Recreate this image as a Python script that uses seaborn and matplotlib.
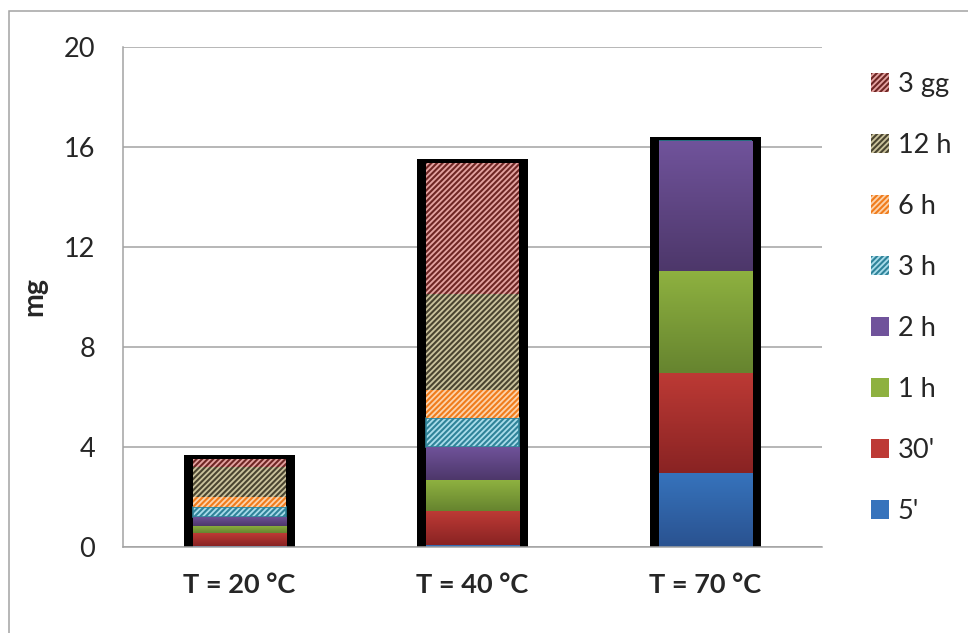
import numpy as np
import matplotlib
matplotlib.use("Agg")
import matplotlib.pyplot as plt
from matplotlib.patches import Patch, Rectangle
from matplotlib.colors import LinearSegmentedColormap
from matplotlib.ticker import FixedLocator
import seaborn as sns

# --- data -------------------------------------------------------------
categories = ["T = 20 °C", "T = 40 °C", "T = 70 °C"]
series_names = ["5'", "30'", "1 h", "2 h", "3 h", "6 h", "12 h", "3 gg"]

s_5min = [0.03, 0.08, 2.95]
s_30min = [0.52, 1.36, 4.02]
s_1h = [0.29, 1.24, 4.07]
s_2h = [0.37, 1.33, 5.20]
s_3h = [0.40, 1.16, 0.0]
s_6h = [0.38, 1.11, 0.0]
s_12h = [1.22, 3.84, 0.0]
s_3gg = [0.31, 5.23, 0.0]

y_ticks = [0, 4, 8, 12, 16, 20]

series_values = [s_5min, s_30min, s_1h, s_2h, s_3h, s_6h, s_12h, s_3gg]

# --- styles -----------------------------------------------------------
# solid series: (top colour, bottom colour) of a vertical gradient
solid_styles = {
    "5'": ("#3673BC", "#2A5290"),
    "30'": ("#BD3A35", "#892323"),
    "1 h": ("#8EB140", "#66842F"),
    "2 h": ("#70539B", "#4D376A"),
}
# hatched series: (background, stripe colour)
hatch_styles = {
    "3 h": ("#A9DCEA", "#2F8399"),
    "6 h": ("#FCD3AC", "#F07C1C"),
    "12 h": ("#CBC39D", "#4A4430"),
    "3 gg": ("#E4A3A1", "#6E2624"),
}
hatch_pattern = "//////"

sns.set_style("white")
plt.rcParams["font.family"] = ["Lato", "DejaVu Sans"]
plt.rcParams["hatch.linewidth"] = 1.5

fig = plt.figure(figsize=(9.68, 6.33), dpi=100)
ax = fig.add_axes([123 / 968, 1 - 547 / 633, (822 - 123) / 968, 500 / 633])

grid_gray = "#A3A3A3"
font_size = 19.5

# black frame behind each stacked column
totals = np.sum(np.array(series_values), axis=0)
frame_pad = 0.17
sns.barplot(x=categories, y=totals + frame_pad, color="black", width=0.48,
            saturation=1, errorbar=None, linewidth=0, ax=ax)

# stacked segments
bottom = np.zeros(len(categories))
solid_patches = []
for name, vals in zip(series_names, series_values):
    vals = np.asarray(vals, dtype=float)
    if name in solid_styles:
        top_c, bot_c = solid_styles[name]
        n_before = len(ax.patches)
        sns.barplot(x=categories, y=vals, bottom=bottom, color=top_c, width=0.40,
                    saturation=1, errorbar=None, linewidth=0, ax=ax)
        for p in ax.patches[n_before:]:
            solid_patches.append((p, top_c, bot_c))
    else:
        bg, fg = hatch_styles[name]
        lw = 1.2 if name == "3 h" else 0
        sns.barplot(x=categories, y=vals, bottom=bottom, color=bg, width=0.40,
                    saturation=1, errorbar=None, linewidth=lw, edgecolor=fg,
                    hatch=hatch_pattern, ax=ax)
    bottom = bottom + vals

# vertical gradient fill on the plain segments
for p, top_c, bot_c in solid_patches:
    if p.get_height() <= 0:
        continue
    x0, y0 = p.get_x(), p.get_y()
    x1, y1 = x0 + p.get_width(), y0 + p.get_height()
    cmap = LinearSegmentedColormap.from_list("g", [bot_c, top_c])
    grad = np.linspace(0, 1, 128).reshape(-1, 1)
    im = ax.imshow(grad, extent=[x0, x1, y0, y1], origin="lower", cmap=cmap,
                   aspect="auto", interpolation="bilinear", zorder=1.5)
    im.set_clip_path(p)

# --- axes -------------------------------------------------------------
ax.set_xlim(-0.5, 2.5)
ax.set_ylim(0, 20)
ax.set_yticks(y_ticks)
ax.set_axisbelow(True)
ax.grid(axis="y", color=grid_gray, linewidth=1.1)
ax.grid(axis="x", visible=False)
for side in ("top", "right"):
    ax.spines[side].set_visible(False)
for side in ("left", "bottom"):
    ax.spines[side].set_color(grid_gray)
    ax.spines[side].set_linewidth(1.1)

ax.xaxis.set_minor_locator(FixedLocator([-0.5, 0.5, 1.5, 2.5]))
ax.tick_params(axis="x", which="major", length=0, pad=19, labelsize=font_size)
ax.tick_params(axis="x", which="minor", length=7, width=1.1, color=grid_gray,
               direction="out")
ax.tick_params(axis="y", length=7, width=1.1, color=grid_gray, pad=13,
               labelsize=font_size, direction="out")
for lbl in ax.get_xticklabels():
    lbl.set_fontweight("bold")
ax.set_xlabel("")
ax.set_ylabel("mg", fontsize=font_size + 1, fontweight="bold", labelpad=12)

# --- legend -----------------------------------------------------------
handles = []
for name in series_names[::-1]:
    if name in solid_styles:
        handles.append(Patch(facecolor=solid_styles[name][0], linewidth=0))
    else:
        bg, fg = hatch_styles[name]
        handles.append(Patch(facecolor=bg, edgecolor=fg, hatch=hatch_pattern,
                             linewidth=0))
fig.legend(handles, series_names[::-1], loc="center left",
           bbox_to_anchor=(871 / 968, 1 - 298 / 633), frameon=False,
           fontsize=font_size, handlelength=0.66, handleheight=0.66,
           handletextpad=0.33, labelspacing=1.33, borderpad=0, borderaxespad=0)

# outer chart border
fig.patches.append(Rectangle((9 / 968, -0.2), 1.2, 1.2 - 11 / 633,
                             transform=fig.transFigure, fill=False,
                             edgecolor=grid_gray, linewidth=1.1))

fig.savefig("out.png", dpi=100)
